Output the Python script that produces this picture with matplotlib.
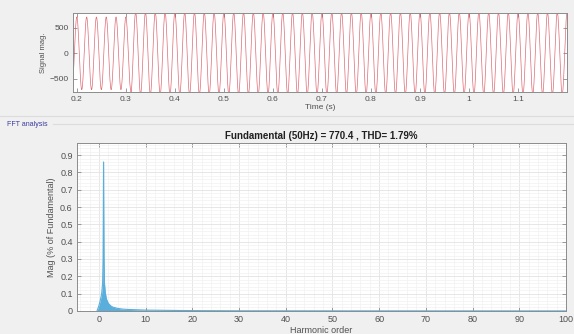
import numpy as np
import matplotlib.pyplot as plt
from matplotlib.ticker import MultipleLocator

plt.rcParams['font.family'] = ['Liberation Sans', 'DejaVu Sans']

# Time-domain signal: 50 Hz waveform, peak amplitude per interval
freq_hz = 50
seg_start = [0.19, 0.31]
seg_end = [0.31, 1.20]
seg_peak = [712, 800]

# FFT spectrum (harmonic order vs. magnitude)
harm_order = [-0.4, 0.0, 0.3, 0.6, 0.8, 0.9, 0.95, 1.0, 1.05, 1.1, 1.2, 1.35,
              1.6, 2.0, 2.5, 3.0, 4.0, 5.0, 6.0, 8.0, 10.0, 13.0, 16.0, 20.0,
              30.0, 50.0, 100.0]
harm_mag = [0.0, 0.03, 0.06, 0.1, 0.16, 0.3, 0.55, 0.86, 0.55, 0.3, 0.16, 0.11,
            0.07, 0.045, 0.03, 0.022, 0.015, 0.011, 0.009, 0.007, 0.005, 0.004,
            0.003, 0.002, 0.001, 0.0006, 0.0003]

title_txt = 'Fundamental (50Hz) = 770.4 , THD= 1.79%'

BG = '#f0f0f0'
AX_COL = '#8c8c8c'
TXT = '#505050'

fig = plt.figure(figsize=(5.74, 3.34), dpi=100, facecolor=BG)


def style_axes(ax):
    for s in ax.spines.values():
        s.set_color(AX_COL)
        s.set_linewidth(0.7)
    ax.tick_params(direction='in', top=True, right=True, length=3,
                   width=0.6, color=AX_COL, labelsize=6, labelcolor=TXT, pad=3)
    ax.tick_params(which='minor', length=0)


# --- signal axes ---
ax1 = fig.add_axes([0.127, 0.725, 0.861, 0.236])
ts, ys = [], []
for a, b, pk in zip(seg_start, seg_end, seg_peak):
    t = np.linspace(a, b, int((b - a) * 4000))
    ts.append(t)
    ys.append(pk * np.cos(2 * np.pi * freq_hz * t))
ax1.plot(np.concatenate(ts), np.concatenate(ys), color='#d8505c', lw=0.5, alpha=0.85)
ax1.set_xlim(0.192, 1.2)
ax1.set_ylim(-755, 790)
ax1.set_xticks([0.2, 0.3, 0.4, 0.5, 0.6, 0.7, 0.8, 0.9, 1.0, 1.1])
ax1.set_xticklabels(['0.2', '0.3', '0.4', '0.5', '0.6', '0.7', '0.8', '0.9', '1', '1.1'])
ax1.set_yticks([-500, 0, 500])
ax1.set_xlabel('Time (s)', fontsize=6, color=TXT, labelpad=1)
ax1.set_ylabel('Signal mag.', fontsize=5.5, color=TXT, labelpad=2)
style_axes(ax1)

# panel separators and label
fig.add_artist(plt.Line2D([0.0, 1.0], [1 - 116 / 334] * 2, color='#dcdcdc', lw=0.8))
fig.add_artist(plt.Line2D([0.092, 1.0], [1 - 124 / 334] * 2, color='#dcdcdc', lw=0.8))
fig.text(0.012, 1 - 124 / 334, 'FFT analysis', fontsize=5, color='#3a3aa0',
         va='center', ha='left')

# --- FFT axes ---
ax2 = fig.add_axes([0.134, 0.069, 0.852, 0.503])
ax2.fill_between(harm_order, harm_mag, 0, color='#5aaedc', lw=0)
ax2.plot(harm_order, harm_mag, color='#5aaedc', lw=0.8)
ax2.set_xlim(-4.7, 100)
ax2.set_ylim(0, 0.97)
ax2.set_xticks(np.arange(0, 101, 10))
ax2.set_yticks(np.arange(0, 0.91, 0.1))
ax2.set_yticklabels(['0'] + ['%.1f' % v for v in np.arange(0.1, 0.91, 0.1)])
ax2.xaxis.set_minor_locator(MultipleLocator(2))
ax2.yaxis.set_minor_locator(MultipleLocator(0.02))
ax2.grid(which='major', color='#e3e3e3', lw=0.6)
ax2.grid(which='minor', color='#f1f1f1', lw=0.5)
ax2.set_axisbelow(True)
ax2.set_xlabel('Harmonic order', fontsize=6.5, color=TXT, labelpad=1)
ax2.set_ylabel('Mag (% of Fundamental)', fontsize=6.5, color=TXT, labelpad=3)
ax2.set_title(title_txt, fontsize=7, fontweight='bold', color='#202020', pad=3)
style_axes(ax2)
ax2.tick_params(labelsize=6.5)

fig.savefig('out.png', dpi=100, facecolor=BG)
